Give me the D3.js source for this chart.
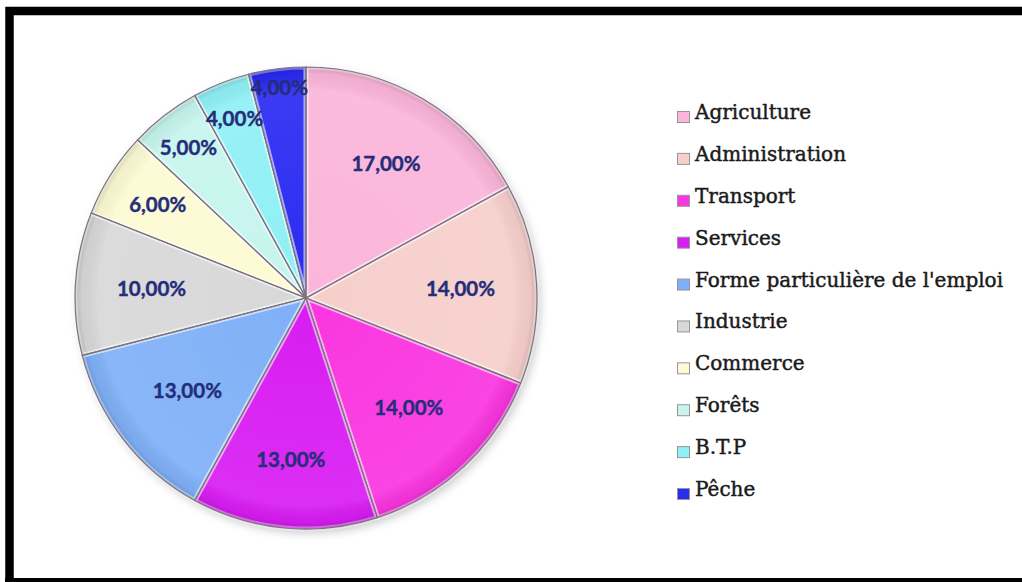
<!DOCTYPE html>
<html>
<head>
<meta charset="utf-8">
<script src="https://cdn.jsdelivr.net/npm/d3@7"></script>
<style>
  html, body { margin: 0; padding: 0; background: #fff; }
  #container { width: 1022px; height: 582px; overflow: hidden; }
</style>
</head>
<body>
<div id="container"></div>
<script>
/* CONSTANTS AND GLOBALS */
const width = 1022,
  height = 582;

/* DATA */
const sectors = ["Agriculture", "Administration", "Transport", "Services",
  "Forme particulière de l'emploi", "Industrie", "Commerce", "Forêts", "B.T.P", "Pêche"];
const shares = [17, 14, 14, 13, 13, 10, 6, 5, 4, 4];
const colors = ["#fbb5da", "#f6cfcb", "#fa36e0", "#d81ef2", "#7fb0f7",
  "#d8d8d8", "#fdfbd3", "#c6f5ee", "#8ff0f5", "#2b2cf2"];

const data = sectors.map((s, i) => ({ sector: s, value: shares[i], color: colors[i] }));

// label distance from centre (fraction of radius), small slices pushed out
const labelRadius = [0.68, 0.67, 0.65, 0.70, 0.65, 0.67, 0.76, 0.83, 0.84, 0.92];

const cx = 306, cy = 298, r = 231;

// CREATE SVG ELEMENT
const svg = d3.select("#container")
  .append("svg")
  .attr("width", width)
  .attr("height", height);

const defs = svg.append("defs");
defs.append("filter")
  .attr("id", "shadow")
  .attr("x", "-20%").attr("y", "-20%").attr("width", "140%").attr("height", "140%")
  .append("feDropShadow")
  .attr("dx", 3).attr("dy", 4).attr("stdDeviation", 5)
  .attr("flood-color", "#000").attr("flood-opacity", 0.22);

// soft rim shading over each slice
const bevel = defs.append("radialGradient")
  .attr("id", "bevel")
  .attr("gradientUnits", "userSpaceOnUse")
  .attr("cx", 0).attr("cy", 0).attr("r", r);
bevel.append("stop").attr("offset", "0%").attr("stop-color", "#fff").attr("stop-opacity", 0.0);
bevel.append("stop").attr("offset", "90%").attr("stop-color", "#fff").attr("stop-opacity", 0.08);
bevel.append("stop").attr("offset", "97%").attr("stop-color", "#000").attr("stop-opacity", 0.04);
bevel.append("stop").attr("offset", "100%").attr("stop-color", "#000").attr("stop-opacity", 0.16);

// FRAME
svg.append("path")
  .attr("d", `M9.5,${height + 5} V11 H${width + 5}`)
  .attr("fill", "none")
  .attr("stroke", "#000")
  .attr("stroke-width", 8.5);
svg.append("line")
  .attr("x1", 5).attr("x2", width)
  .attr("y1", 580.5).attr("y2", 580.5)
  .attr("stroke", "#000")
  .attr("stroke-width", 5);

// PIE
const pie = d3.pie()
  .sort(null)
  .value(d => d.value);

const arcs = pie(data);

const arcGen = d3.arc()
  .innerRadius(0)
  .outerRadius(r);

const g = svg.append("g")
  .attr("transform", `translate(${cx},${cy})`);

g.append("g").attr("filter", "url(#shadow)")
  .selectAll(".slice")
  .data(arcs)
  .join("path")
  .attr("class", "slice")
  .attr("d", arcGen)
  .attr("fill", d => d.data.color);

// light bevel along slice edges
g.selectAll(".hilite")
  .data(arcs)
  .join("path")
  .attr("class", "hilite")
  .attr("d", arcGen)
  .attr("fill", "url(#bevel)")
  .attr("stroke", "#fff")
  .attr("stroke-opacity", 0.35)
  .attr("stroke-width", 5)
  .attr("stroke-linejoin", "round");

g.selectAll(".edge")
  .data(arcs)
  .join("path")
  .attr("class", "edge")
  .attr("d", arcGen)
  .attr("fill", "none")
  .attr("stroke", "#7d7280")
  .attr("stroke-width", 1.2);

// LABELS
const fmt = v => v.toFixed(2).replace(".", ",") + "%";

g.selectAll(".label")
  .data(arcs)
  .join("text")
  .attr("class", "label")
  .attr("transform", (d, i) => {
    const c = d3.arc().innerRadius(r * labelRadius[i]).outerRadius(r * labelRadius[i]).centroid(d);
    return `translate(${c[0]},${c[1]})`;
  })
  .attr("text-anchor", "middle")
  .attr("dominant-baseline", "central")
  .style("font-family", "Lato, 'Open Sans', sans-serif")
  .style("font-weight", 700)
  .style("font-size", "20.5px")
  .style("fill", "#252d7a")
  .style("stroke", "#252d7a")
  .style("stroke-width", 0.4)
  .text(d => fmt(d.data.value));

// LEGEND
const legendY = d3.scalePoint()
  .domain(sectors)
  .range([119, 496]);

const legend = svg.append("g")
  .attr("class", "legend");

const items = legend.selectAll(".item")
  .data(data)
  .join("g")
  .attr("class", "item")
  .attr("transform", d => `translate(677,${legendY(d.sector)})`);

items.append("rect")
  .attr("x", 0.5)
  .attr("y", -7.5)
  .attr("width", 12)
  .attr("height", 11)
  .attr("fill", d => d.color)
  .attr("stroke", "#9a949a")
  .attr("stroke-width", 1);

items.append("text")
  .attr("x", 18)
  .attr("y", 0)
  .style("font-family", "'DejaVu Serif', serif")
  .style("font-size", "20px")
  .style("fill", "#1a1a1a")
  .style("stroke", "#1a1a1a")
  .style("stroke-width", 0.45)
  .text(d => d.sector);
</script>
</body>
</html>
